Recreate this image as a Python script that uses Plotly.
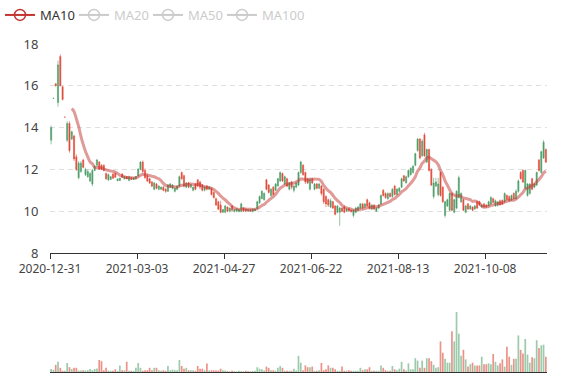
import plotly.graph_objects as go

# ---------------- data ----------------
opens = [13.4, 15.4, 16.1, 15.2, 17.4, 15.95, 14.5, 13.4, 14.2, 13.45,
         13.6, 12.6, 11.6, 11.9, 12.45, 11.75, 11.65, 11.45, 11.3, 11.95,
         12.2, 12.35, 12.2, 12.2, 11.8, 11.5, 11.52, 11.78, 11.82, 11.46,
         11.47, 11.78, 11.55, 11.66, 11.47, 11.6, 11.52, 11.55, 11.68, 12.0,
         12.35, 11.95, 11.7, 11.55, 11.4, 11.05, 11.3, 11.05, 11.05, 11.15,
         11.05, 10.95, 11.15, 11.1, 10.95, 11.05, 11.2, 11.85, 11.7, 11.15,
         11.35, 11.15, 11.0, 11.3, 11.5, 11.4, 11.25, 11.0, 11.2, 11.05,
         11.1, 10.9, 10.6, 10.45, 10.3, 9.95, 9.95, 10.2, 10.0, 10.25,
         9.98, 10.0, 9.98, 10.0, 10.15, 10.1, 10.0, 10.08, 9.98, 10.02,
         10.12, 10.4, 10.6, 10.55, 11.5, 11.25, 10.75, 11.15, 11.0, 11.2,
         11.45, 11.8, 11.3, 11.55, 11.05, 11.4, 11.0, 11.15, 11.25, 11.85,
         12.2, 11.85, 11.55, 11.05, 11.55, 11.05, 11.3, 11.1, 11.2, 11.05,
         10.7, 10.55, 10.2, 10.45, 10.25, 9.95, 9.95, 10.15, 10.2, 10.0,
         10.12, 10.05, 9.8, 9.95, 10.05, 10.15, 10.35, 10.2, 10.55, 10.4,
         10.1, 10.3, 10.0, 10.15, 10.35, 11.0, 10.85, 10.6, 10.85, 10.7,
         11.2, 10.8, 10.95, 11.15, 11.7, 11.35, 11.65, 11.75, 11.85, 12.2,
         12.9, 13.45, 12.65, 13.65, 12.35, 12.95, 12.0, 10.7, 11.2, 10.8,
         11.85, 11.15, 9.8, 10.25, 10.05, 10.85, 9.95, 10.15, 10.65, 10.45,
         10.55, 9.95, 10.35, 10.1, 10.2, 10.1, 10.45, 10.45, 10.2, 10.35,
         10.3, 10.25, 10.35, 10.6, 10.25, 10.28, 10.5, 10.52, 10.45, 10.75,
         10.7, 10.52, 10.85, 10.6, 10.95, 11.85, 11.95, 11.1, 10.75, 10.85,
         11.55, 11.15, 11.25, 12.45, 11.85, 12.55, 12.95]

highs = [14.1, 15.4, 16.1, 17.2, 17.5, 16.0, 14.5, 14.3, 14.3, 13.85,
         13.65, 12.72, 12.4, 12.4, 12.5, 12.08, 12.0, 11.87, 12.03, 12.2,
         12.5, 12.4, 12.25, 12.24, 11.85, 11.81, 11.68, 11.81, 11.85, 11.56,
         11.6, 11.82, 11.68, 11.68, 11.68, 11.62, 11.62, 11.68, 12.05, 12.4,
         12.43, 12.05, 11.8, 11.6, 11.45, 11.4, 11.35, 11.25, 11.18, 11.2,
         11.1, 11.3, 11.35, 11.3, 11.12, 11.25, 11.7, 11.9, 11.75, 11.4,
         11.4, 11.3, 11.18, 11.35, 11.52, 11.45, 11.3, 11.2, 11.25, 11.2,
         11.15, 10.95, 10.65, 10.5, 10.5, 10.1, 10.3, 10.22, 10.18, 10.3,
         10.1, 10.15, 10.1, 10.42, 10.18, 10.12, 10.1, 10.1, 10.12, 10.12,
         10.5, 10.75, 11.0, 10.9, 11.55, 11.3, 11.1, 11.2, 11.35, 11.6,
         11.9, 11.85, 11.7, 11.6, 11.4, 11.45, 11.25, 11.4, 11.9, 12.42,
         12.25, 11.9, 11.6, 11.6, 11.6, 11.35, 11.35, 11.35, 11.25, 11.1,
         10.76, 10.6, 10.6, 10.5, 10.3, 10.3, 10.2, 10.18, 10.3, 10.15,
         10.15, 10.08, 10.1, 10.2, 10.25, 10.4, 10.4, 10.38, 10.6, 10.45,
         10.32, 10.32, 10.2, 10.35, 10.8, 11.05, 10.9, 10.9, 10.9, 11.1,
         11.25, 11.1, 11.15, 11.6, 11.72, 11.7, 12.0, 12.1, 12.2, 12.8,
         13.5, 13.5, 13.45, 13.75, 13.0, 13.0, 12.05, 11.6, 11.6, 11.6,
         11.9, 11.2, 10.5, 10.6, 10.9, 10.9, 10.6, 11.0, 11.7, 10.9,
         10.6, 10.3, 10.4, 10.3, 10.22, 10.3, 10.5, 10.5, 10.32, 10.4,
         10.32, 10.5, 10.72, 10.65, 10.56, 10.48, 10.56, 10.56, 10.9, 10.8,
         10.75, 10.8, 10.9, 11.05, 11.52, 11.92, 12.0, 12.0, 11.35, 11.35,
         11.6, 11.35, 11.9, 12.5, 12.9, 13.4, 13.0]

lows = [13.2, 15.4, 15.97, 15.0, 15.97, 15.3, 14.5, 13.3, 12.8, 13.4,
        12.4, 11.92, 11.52, 11.84, 12.05, 11.68, 11.6, 11.39, 11.2, 11.92,
        12.15, 11.98, 11.98, 11.9, 11.5, 11.44, 11.49, 11.55, 11.6, 11.44,
        11.44, 11.6, 11.52, 11.52, 11.44, 11.5, 11.5, 11.52, 11.65, 11.97,
        11.8, 11.55, 11.4, 11.3, 11.15, 11.0, 11.05, 11.0, 11.02, 10.95,
        10.88, 10.92, 11.1, 11.05, 10.9, 11.0, 11.15, 11.5, 11.15, 11.1,
        11.1, 11.1, 10.95, 11.0, 11.15, 11.05, 10.95, 10.95, 11.0, 11.02,
        10.75, 10.6, 10.25, 10.05, 9.9, 9.92, 9.9, 9.95, 9.95, 10.0,
        9.95, 9.95, 9.95, 9.95, 9.97, 9.95, 9.97, 9.97, 9.95, 10.0,
        10.1, 10.35, 10.58, 10.5, 11.0, 10.85, 10.7, 10.75, 10.98, 11.18,
        11.4, 11.4, 11.25, 11.15, 11.0, 11.05, 10.9, 11.1, 11.2, 11.8,
        11.7, 11.3, 11.3, 11.0, 11.3, 11.0, 11.05, 11.05, 10.75, 10.35,
        10.2, 10.2, 10.15, 10.1, 9.8, 9.9, 9.3, 9.97, 9.9, 9.97,
        9.98, 9.95, 9.7, 9.9, 10.0, 10.1, 10.1, 10.15, 10.2, 10.1,
        10.05, 10.05, 9.97, 10.1, 10.3, 10.7, 10.6, 10.55, 10.65, 10.65,
        10.75, 10.75, 10.9, 11.1, 11.4, 11.33, 11.6, 11.7, 11.8, 12.15,
        12.85, 12.48, 12.6, 12.6, 12.3, 11.9, 11.2, 10.6, 11.15, 10.7,
        10.7, 10.4, 9.7, 10.2, 10.0, 10.0, 9.9, 10.1, 10.6, 10.4,
        10.0, 9.9, 10.08, 10.08, 10.0, 10.08, 10.1, 10.25, 10.17, 10.17,
        10.17, 10.22, 10.3, 10.4, 10.22, 10.22, 10.27, 10.3, 10.4, 10.52,
        10.48, 10.48, 10.55, 10.55, 10.88, 11.52, 11.35, 11.05, 10.7, 10.8,
        11.0, 11.1, 11.2, 11.9, 11.8, 12.5, 12.3]

closes = [14.0, 15.4, 16.0, 17.0, 16.0, 15.35, 14.5, 14.2, 12.9, 13.8,
          12.5, 12.0, 12.3, 12.3, 12.1, 12.0, 11.9, 11.8, 11.95, 12.15,
          12.45, 12.0, 12.0, 11.95, 11.55, 11.75, 11.65, 11.58, 11.62, 11.54,
          11.58, 11.62, 11.66, 11.55, 11.64, 11.52, 11.6, 11.66, 12.02, 12.35,
          11.9, 11.6, 11.45, 11.35, 11.2, 11.35, 11.1, 11.2, 11.15, 11.0,
          10.95, 11.25, 11.3, 11.25, 11.1, 11.2, 11.65, 11.55, 11.2, 11.35,
          11.15, 11.28, 11.15, 11.05, 11.2, 11.15, 11.0, 11.15, 11.05, 11.15,
          10.8, 10.65, 10.3, 10.1, 9.95, 10.08, 10.25, 10.0, 10.15, 10.05,
          10.08, 10.12, 10.08, 10.35, 10.0, 10.0, 10.08, 10.0, 10.1, 10.1,
          10.45, 10.7, 10.95, 10.85, 11.05, 10.9, 11.05, 10.8, 11.3, 11.55,
          11.85, 11.45, 11.65, 11.2, 11.35, 11.15, 11.2, 11.35, 11.85, 12.35,
          11.75, 11.4, 11.35, 11.5, 11.35, 11.3, 11.1, 11.3, 10.85, 10.45,
          10.35, 10.3, 10.5, 10.15, 9.85, 10.25, 10.15, 10.0, 9.95, 10.1,
          10.02, 9.97, 10.05, 10.15, 10.2, 10.35, 10.15, 10.35, 10.25, 10.15,
          10.3, 10.1, 10.15, 10.3, 10.75, 10.75, 10.65, 10.85, 10.7, 11.05,
          10.8, 11.05, 11.1, 11.55, 11.45, 11.65, 11.95, 12.05, 12.15, 12.75,
          13.45, 12.55, 13.35, 12.65, 12.95, 11.95, 11.25, 11.35, 11.4, 11.3,
          10.75, 10.45, 10.45, 10.55, 10.85, 10.05, 10.55, 10.95, 11.6, 10.85,
          10.05, 10.25, 10.1, 10.25, 10.05, 10.25, 10.15, 10.3, 10.3, 10.2,
          10.2, 10.45, 10.65, 10.42, 10.5, 10.45, 10.3, 10.35, 10.85, 10.55,
          10.5, 10.75, 10.6, 10.95, 11.45, 11.55, 11.4, 11.95, 11.3, 11.3,
          11.05, 11.3, 11.85, 11.95, 12.85, 13.3, 12.35]

volumes = [5, 4, 12, 17, 7, 2, 2, 15, 8, 5,
           7, 7, 2.5, 2.5, 3, 2.5, 3, 5, 3, 5,
           6, 20, 18, 3, 7, 2.5, 2, 2, 4.5, 2,
           11, 3, 3, 17, 2, 2, 2, 7, 15, 7,
           2, 3, 3, 7, 3, 7, 7, 3, 2, 3,
           2, 10, 3, 4, 3, 3, 20, 10, 5.5, 7,
           3, 3, 3, 2, 10, 5.5, 5.5, 3, 14, 2.5,
           3, 3, 2.5, 2.5, 5.5, 3, 2.5, 1.5, 1, 2,
           1.5, 1, 2, 1.5, 1, 2, 1.5, 1, 1.5, 2,
           8, 5.5, 4.5, 2.5, 9, 7, 3, 3, 2, 7,
           10, 7, 2, 2, 2, 2, 5.5, 2.5, 27, 15.5,
           3, 11, 8, 8, 9, 2, 2, 3, 15, 3,
           4.5, 11, 7, 7, 4.5, 2, 2, 9, 2, 2,
           3, 2, 2, 2, 2, 7, 3, 4.5, 4.5, 8,
           2, 2, 2, 2, 11, 7, 3, 2, 2, 10,
           4.5, 3, 5.5, 17, 4.5, 2.5, 14.5, 4.5, 4.5, 23,
           19, 7, 19, 7, 23, 23, 18, 12, 7, 8,
           51, 32, 22, 15.5, 15.5, 68, 51, 100, 64, 27,
           37, 21, 9, 13, 15.5, 11, 11, 11, 25.5, 13,
           13, 14.5, 13, 30, 17, 11, 14.5, 21, 9, 42,
           25.5, 12, 22, 22, 61, 37, 31, 55, 29, 15.5,
           24.5, 23, 53, 40, 44.5, 45.5, 25.5]

tick_labels = ["2020-12-31", "2021-03-03", "2021-04-27",
               "2021-06-22", "2021-08-13", "2021-10-08"]
label_step = 38
ma_periods = [10, 20, 50, 100]

# ---------------- styling ----------------
UP = "#4e9e68"
DOWN = "#e04b3a"
UP_VOL = "rgba(78,158,104,0.55)"
DOWN_VOL = "rgba(224,75,58,0.6)"
MA_COLOR = "#c23531"
GREY = "#999999"

n = len(closes)
x = list(range(n))


def moving_average(period):
    out = []
    for i in range(n):
        if i < period - 1:
            out.append(None)
        else:
            out.append(round(sum(closes[i - period + 1:i + 1]) / period, 4))
    return out


fig = go.Figure()

fig.add_trace(go.Candlestick(
    x=x, open=opens, high=highs, low=lows, close=closes,
    increasing=dict(line=dict(color=UP, width=0.6), fillcolor=UP),
    decreasing=dict(line=dict(color=DOWN, width=0.6), fillcolor=DOWN),
    whiskerwidth=0, showlegend=False, name="K", xaxis="x", yaxis="y",
))

vol_colors = [UP_VOL if c >= o else DOWN_VOL for o, c in zip(opens, closes)]
fig.add_trace(go.Bar(
    x=x, y=volumes, marker=dict(color=vol_colors, line=dict(width=0)),
    showlegend=False, xaxis="x2", yaxis="y2", name="Volume",
))

for k, p in enumerate(ma_periods):
    name = f"MA{p}"
    first = (k == 0)
    color = MA_COLOR if first else GREY
    vis = True if first else "legendonly"
    line_color = "rgba(194,53,49,0.5)" if first else GREY
    fig.add_trace(go.Scatter(
        x=x, y=moving_average(p), mode="lines",
        line=dict(color=line_color, width=3, shape="spline", smoothing=1),
        showlegend=False, legendgroup=name, visible=vis, name=name,
        hoverinfo="skip", xaxis="x", yaxis="y",
    ))
    label = name if first else f"<span style='color:{GREY}'>{name}</span>"
    fig.add_trace(go.Scatter(
        x=[None], y=[None], mode="lines+markers", name=label,
        line=dict(color=color, width=2),
        marker=dict(symbol="circle-open", size=11, color=color,
                    line=dict(width=1.5, color=color)),
        legendgroup=name, visible=vis, xaxis="x", yaxis="y",
    ))

# empty spacer entry so that the last legend label is not clipped
fig.add_trace(go.Scatter(x=[None], y=[None], mode="none", name=" ",
                         showlegend=True, hoverinfo="skip",
                         xaxis="x", yaxis="y"))

main_bottom = (372 - 253) / 328.0

fig.update_layout(
    width=577, height=380,
    margin=dict(l=50, r=30, t=44, b=8, autoexpand=False),
    paper_bgcolor="white", plot_bgcolor="white",
    font=dict(family="Noto Sans, Open Sans, sans-serif", size=12, color="#333"),
    bargap=0.25,
    legend=dict(orientation="h", xref="container", yref="container",
                x=0.0, y=1.0, xanchor="left", yanchor="top",
                entrywidth=29, itemwidth=30,
                font=dict(size=13, color="#333"),
                bgcolor="rgba(0,0,0,0)", traceorder="normal"),
    xaxis=dict(domain=[0, 1], anchor="y", range=[-0.5, n - 0.5],
               tickmode="array",
               tickvals=[k * label_step - 0.5 for k in range(len(tick_labels))],
               ticktext=tick_labels, ticks="outside", ticklen=5,
               tickcolor="#333", showline=True, linecolor="#333",
               linewidth=1, showgrid=False, zeroline=False, automargin=False,
               rangeslider=dict(visible=False),
               tickfont=dict(size=12, color="#444")),
    yaxis=dict(domain=[main_bottom, 1], range=[8, 18], dtick=2,
               showgrid=True, gridcolor="#e0e0e0", griddash="5px,4px",
               zeroline=False, showline=False, ticks="outside", automargin=False,
               ticklen=8, tickcolor="rgba(0,0,0,0)",
               tickfont=dict(size=13, color="#444")),
    xaxis2=dict(domain=[0, 1], anchor="y2", matches="x", automargin=False,
                showticklabels=False, ticks="", showline=True,
                linecolor="#333", linewidth=1, showgrid=False, zeroline=False),
    yaxis2=dict(domain=[0, 0.25], range=[0, max(volumes) * 1.367],
                visible=False),
)

fig.write_html("out.html",
               config={"displayModeBar": False},
               post_script="document.body.style.margin='0px';")
